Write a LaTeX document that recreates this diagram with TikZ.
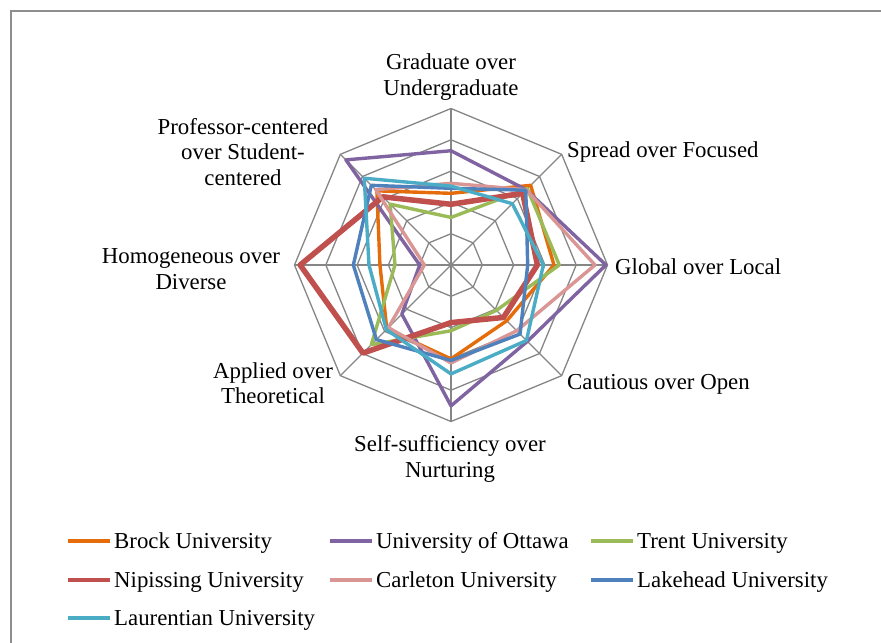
\documentclass[tikz,border=0pt]{standalone}
\usepackage{fontspec}
\setmainfont{Liberation Serif}
\definecolor{brock}{HTML}{E46C0A}
\definecolor{ottawa}{HTML}{8064A2}
\definecolor{trent}{HTML}{9BBB59}
\definecolor{nipissing}{HTML}{C0504D}
\definecolor{carleton}{HTML}{D99694}
\definecolor{lakehead}{HTML}{4F81BD}
\definecolor{laurentian}{HTML}{4BACC6}
\definecolor{gridgray}{HTML}{868686}
\definecolor{framegray}{HTML}{8E8E8E}
\newcommand\U{31.3}
\newcommand\rdr[9]{\draw[series,#1] (90:#2*\U) -- (45:#3*\U) -- (0:#4*\U) -- (-45:#5*\U) -- (-90:#6*\U) -- (-135:#7*\U) -- (180:#8*\U) -- (135:#9*\U) -- cycle;}
\newcommand\lblfont{\fontsize{22.9pt}{25.6pt}\selectfont}
\begin{document}
\begin{tikzpicture}[x=1bp,y=-1bp,
  grid/.style={draw=gridgray, line width=1.3bp},
  series/.style={line width=3.4bp, line join=round},
  lbl/.style={font=\lblfont, inner sep=0pt, align=center},
  legline/.style={line width=4bp},
]
\useasboundingbox (0,0) rectangle (881,643);
\fill[white] (0,0) rectangle (881,643);
\draw[framegray, line width=1.6bp] (11,643) -- (11,11) -- (881,11);

\begin{scope}[shift={(451,265)}, y=1bp]
  \foreach \r in {1,...,5}
    \draw[grid] (90:\r*\U) -- (45:\r*\U) -- (0:\r*\U) -- (-45:\r*\U) -- (-90:\r*\U) -- (-135:\r*\U) -- (180:\r*\U) -- (135:\r*\U) -- cycle;
  \foreach \a in {90,45,0,-45,-90,-135,180,135}
    \draw[grid] (0,0) -- (\a:5*\U);
  \rdr{brock}{2.29}{3.6}{3.29}{2.52}{3.0}{2.9}{2.27}{3.35}
  \rdr{ottawa}{3.65}{3.4}{4.95}{3.45}{4.5}{2.22}{1.0}{4.75}
  \rdr{trent}{1.52}{3.45}{3.46}{2.05}{2.1}{3.6}{1.79}{2.75}
  \rdr{nipissing,line width=5.5bp}{1.94}{3.24}{2.76}{2.37}{1.84}{3.98}{4.82}{3.08}
  \rdr{carleton}{2.61}{3.4}{4.6}{2.97}{3.13}{2.83}{0.85}{3.4}
  \rdr{lakehead}{2.45}{3.38}{2.45}{3.12}{3.05}{3.37}{3.12}{3.6}
  \rdr{laurentian}{2.52}{2.77}{2.95}{3.41}{3.48}{2.92}{2.62}{3.92}
\end{scope}

\node[lbl] (grad) at (451,77) {Graduate over\\Undergraduate};
\node[lbl, anchor=west] (spread) at (567,152) {Spread over Focused};
\node[lbl, anchor=west] (global) at (615,267) {Global over Local};
\node[lbl, anchor=west] (caut) at (567,384) {Cautious over Open};
\node[lbl] (self) at (450,459) {Self-sufficiency over\\Nurturing};
\node[lbl] (appl) at (273,383) {Applied over\\Theoretical};
\node[lbl] (homo) at (191,269) {Homogeneous over\\Diverse};
\node[lbl] (prof) at (243,152) {Professor-centered\\over Student-\\centered};

\foreach \nm/\col/\x/\y/\txt in {
  lb/brock/68/541/Brock University,
  lo/ottawa/330/541/University of Ottawa,
  lt/trent/591/541/Trent University,
  ln/nipissing/68/580/Nipissing University,
  lc/carleton/330/580/Carleton University,
  lk/lakehead/591/580/Lakehead University,
  ll/laurentian/68/618/Laurentian University}
{
  \coordinate (\nm-a) at (\x,\y);
  \coordinate (\nm-b) at (\x+42,\y);
  \draw[legline, \col] (\nm-a) -- (\nm-b);
  \node[lbl, anchor=west] (\nm-t) at (\x+46,\y+2) {\txt};
}
\end{tikzpicture}
\end{document}
